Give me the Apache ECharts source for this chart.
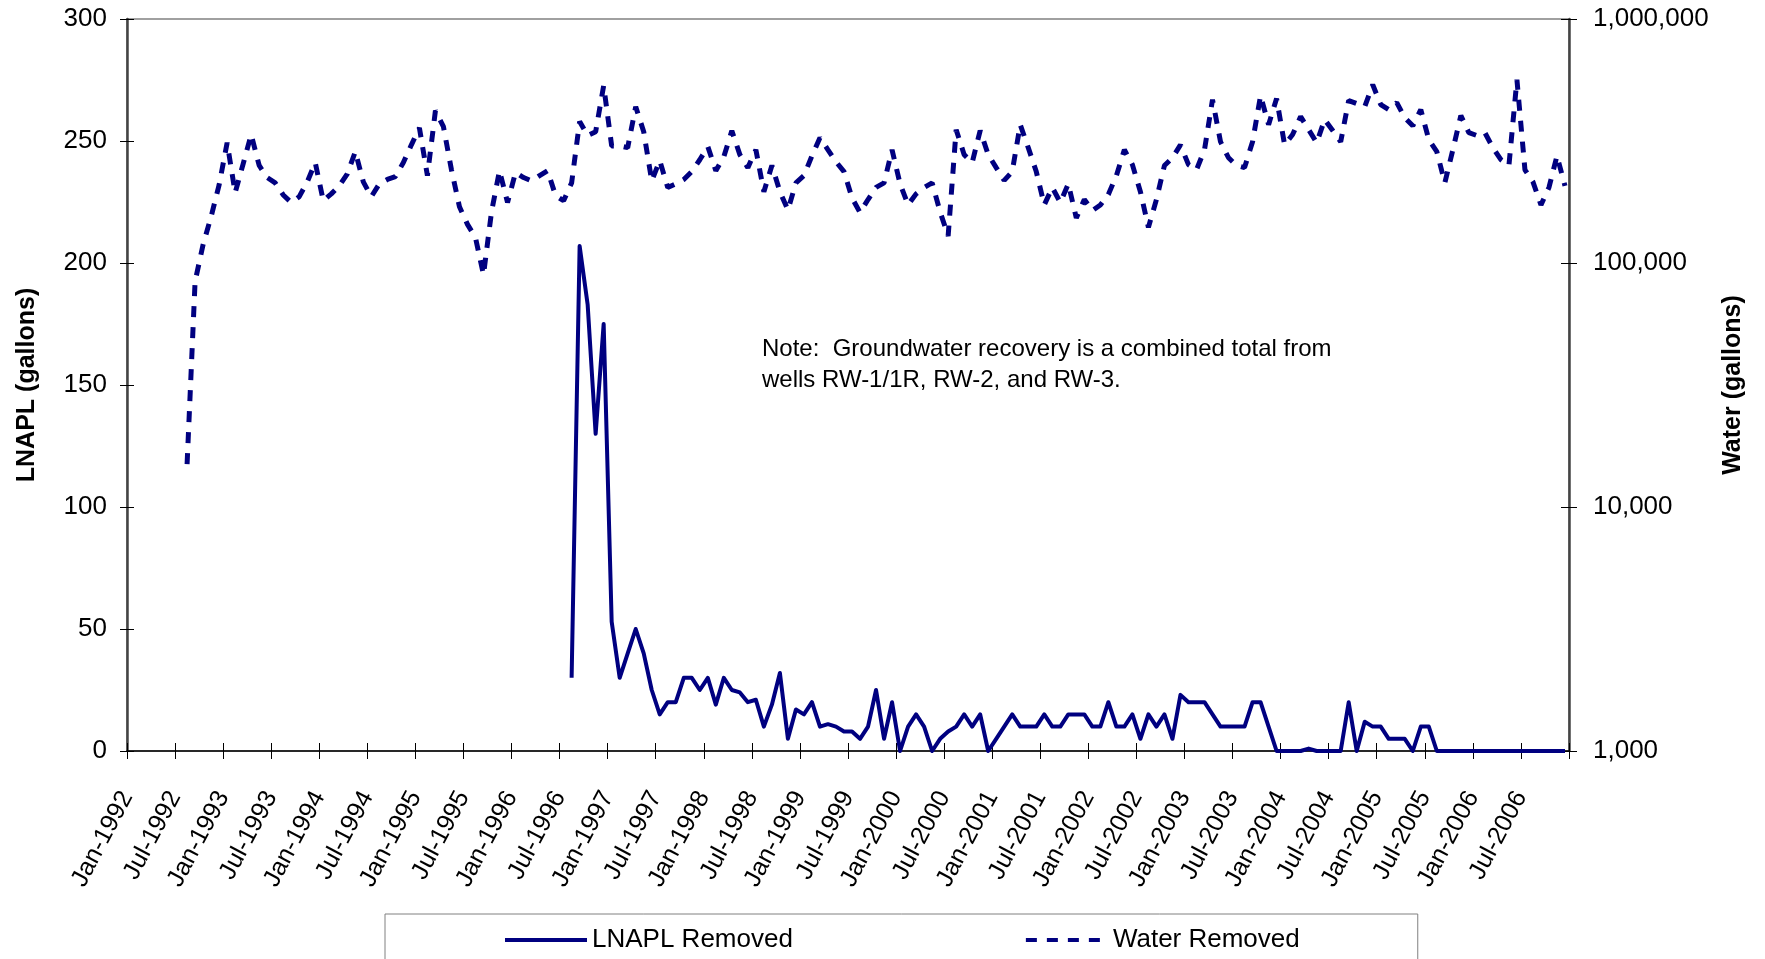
<!DOCTYPE html>
<html>
<head>
<meta charset="utf-8">
<script src="https://cdn.jsdelivr.net/npm/echarts@6.0.0/dist/echarts.min.js"></script>
<style>
html,body{margin:0;padding:0;background:#fff;}
#chart{width:1765px;height:959px;}
</style>
</head>
<body>
<div id="chart"></div>
<script>
// Tick labels every 6 months (Jan-1992 ... Jul-2006)
const tickLabels = [
  'Jan-1992','Jul-1992','Jan-1993','Jul-1993','Jan-1994','Jul-1994',
  'Jan-1995','Jul-1995','Jan-1996','Jul-1996','Jan-1997','Jul-1997',
  'Jan-1998','Jul-1998','Jan-1999','Jul-1999','Jan-2000','Jul-2000',
  'Jan-2001','Jul-2001','Jan-2002','Jul-2002','Jan-2003','Jul-2003',
  'Jan-2004','Jul-2004','Jan-2005','Jul-2005','Jan-2006','Jul-2006'
];

// Monthly LNAPL removed (gallons), Jan-1992 ... Dec-2006
const lnaplRemoved = [
  null,null,null,null,null,null,null,null,null,null,null,null,          // 1992
  null,null,null,null,null,null,null,null,null,null,null,null,          // 1993
  null,null,null,null,null,null,null,null,null,null,null,null,          // 1994
  null,null,null,null,null,null,null,null,null,null,null,null,          // 1995
  null,null,null,null,null,null,null,30,207,183,130,175,                // 1996
  53,30,40,50,40,25,15,20,20,30,30,25,                                  // 1997
  30,19,30,25,24,20,21,10,19,32,5,17,                                   // 1998
  15,20,10,11,10,8,8,5,10,25,5,20,                                      // 1999
  0,10,15,10,0,5,8,10,15,10,15,0,                                       // 2000
  5,10,15,10,10,10,15,10,10,15,15,15,                                   // 2001
  10,10,20,10,10,15,5,15,10,15,5,23,                                    // 2002
  20,20,20,15,10,10,10,10,20,20,10,0,                                   // 2003
  0,0,0,1,0,0,0,0,20,0,12,10,                                           // 2004
  10,5,5,5,0,10,10,0,0,0,0,0,                                           // 2005
  0,0,0,0,0,0,0,0,0,0,0,0                                               // 2006
];

// Monthly groundwater removed (gallons), Jan-1992 ... Dec-2006
const waterRemoved = [
  null,null,null,null,null,null,null,15000,84000,119000,155000,209000,                     // 1992
  311000,194000,255000,336000,251000,224000,213000,190000,177000,187000,215000,258000,     // 1993
  180000,192000,207000,232000,286000,215000,187000,211000,220000,226000,258000,305000,     // 1994
  358000,228000,421000,362000,241000,170000,144000,127000,89500,162000,239000,177000,      // 1995
  235000,224000,217000,228000,239000,189000,180000,213000,380000,333000,345000,533000,     // 1996
  302000,302000,297000,437000,345000,217000,263000,204000,211000,220000,237000,265000,     // 1997
  300000,239000,273000,348000,278000,246000,291000,196000,251000,196000,165000,213000,     // 1998
  228000,275000,326000,291000,260000,237000,185000,161000,182000,204000,213000,291000,     // 1999
  211000,173000,192000,204000,213000,162000,129000,352000,278000,258000,349000,278000,     // 2000
  246000,218000,237000,369000,297000,237000,173000,204000,177000,211000,153000,182000,     // 2001
  164000,173000,191000,228000,291000,253000,196000,140000,182000,251000,270000,305000,     // 2002
  253000,241000,291000,467000,314000,270000,251000,246000,314000,485000,369000,472000,     // 2003
  305000,336000,398000,352000,311000,387000,349000,314000,463000,450000,437000,538000,     // 2004
  446000,425000,454000,394000,365000,425000,320000,286000,213000,291000,402000,342000,     // 2005
  333000,342000,297000,265000,251000,564000,241000,215000,173000,204000,275000,207000      // 2006
];

const noteText = 'Note:  Groundwater recovery is a combined total from\nwells RW-1/1R, RW-2, and RW-3.';

const FONT = "'Liberation Sans', Arial, Helvetica, sans-serif";
const NAVY = '#000080';

// month index -> mid-month position on the month axis
const toPts = arr => arr.map((v, i) => [i + 0.5, v]);
const commas = v => String(Math.round(v)).replace(/\B(?=(\d{3})+(?!\d))/g, ',');

const chart = echarts.init(document.getElementById('chart'), null, {renderer: 'canvas'});

chart.setOption({
  animation: false,
  backgroundColor: '#ffffff',
  grid: {
    left: 127, top: 19, width: 1442, height: 732,
    show: true, borderColor: '#a0a0a0', borderWidth: 2, backgroundColor: 'transparent'
  },
  legend: {
    data: ['LNAPL Removed', 'Water Removed'],
    left: 385, top: 914,
    padding: [13, 118, 30, 118],
    itemGap: 231, itemWidth: 82, itemHeight: 14,
    borderColor: '#808080', borderWidth: 1,
    itemStyle: {opacity: 0, borderWidth: 0},
    lineStyle: {width: 4},
    textStyle: {fontFamily: FONT, fontSize: 26, color: '#000'}
  },
  graphic: [{
    type: 'text', left: 762, top: 334,
    style: {text: noteText, fontFamily: FONT, fontSize: 24, lineHeight: 31, fill: '#000'}
  }],
  xAxis: [{
    type: 'value', min: 0, max: 180, interval: 6, position: 'bottom',
    axisLine: {show: true, onZero: false, lineStyle: {color: '#000', width: 1.5}},
    axisTick: {show: true, length: 8, lineStyle: {color: '#000', width: 1}},
    axisLabel: {
      rotate: 62, align: 'right', verticalAlign: 'middle', margin: 42,
      fontFamily: FONT, fontSize: 25, color: '#000',
      formatter: v => tickLabels[Math.round(v / 6)] || ''
    },
    splitLine: {show: false}
  }, {
    type: 'value', min: 0, max: 180, interval: 6, position: 'bottom',
    axisLine: {show: false, onZero: false},
    axisTick: {show: true, inside: true, length: 8, lineStyle: {color: '#000', width: 1}},
    axisLabel: {show: false}, splitLine: {show: false}
  }],
  yAxis: [{
    type: 'value', position: 'left', min: 0, max: 300, interval: 50,
    name: 'LNAPL (gallons)', nameLocation: 'middle', nameRotate: 90, nameGap: 87,
    nameTextStyle: {fontFamily: FONT, fontSize: 25, fontWeight: 'bold', color: '#000'},
    axisLine: {show: true, onZero: false, lineStyle: {color: '#444', width: 2.5}},
    axisTick: {show: true, length: 7, lineStyle: {color: '#000', width: 1}},
    axisLabel: {margin: 20, fontFamily: FONT, fontSize: 26, color: '#000'},
    splitLine: {show: false}
  }, {
    type: 'log', logBase: 10, position: 'right', min: 1000, max: 1000000,
    name: 'Water (gallons)', nameLocation: 'middle', nameRotate: 90, nameGap: 152,
    nameTextStyle: {fontFamily: FONT, fontSize: 25, fontWeight: 'bold', color: '#000'},
    axisLine: {show: true, onZero: false, lineStyle: {color: '#444', width: 2.5}},
    axisTick: {show: true, length: 8, lineStyle: {color: '#000', width: 1}},
    axisLabel: {margin: 24, fontFamily: FONT, fontSize: 26, color: '#000', formatter: commas},
    splitLine: {show: false}, minorTick: {show: false}
  }, {
    type: 'value', position: 'left', min: 0, max: 300, interval: 50,
    axisLine: {show: false, onZero: false},
    axisTick: {show: true, inside: true, length: 7, lineStyle: {color: '#000', width: 1}},
    axisLabel: {show: false}, splitLine: {show: false}
  }, {
    type: 'log', logBase: 10, position: 'right', min: 1000, max: 1000000,
    axisLine: {show: false, onZero: false},
    axisTick: {show: true, inside: true, length: 8, lineStyle: {color: '#000', width: 1}},
    axisLabel: {show: false}, splitLine: {show: false}
  }],
  series: [{
    name: 'LNAPL Removed', type: 'line', xAxisIndex: 0, yAxisIndex: 0,
    data: toPts(lnaplRemoved), symbol: 'none', connectNulls: false,
    lineStyle: {color: NAVY, width: 4, join: 'round'},
    itemStyle: {color: NAVY}, z: 3
  }, {
    name: 'Water Removed', type: 'line', xAxisIndex: 0, yAxisIndex: 1,
    data: toPts(waterRemoved), symbol: 'none', connectNulls: false,
    lineStyle: {color: NAVY, width: 5, type: [11, 10]},
    itemStyle: {color: NAVY}, z: 2
  }]
});
</script>
</body>
</html>
